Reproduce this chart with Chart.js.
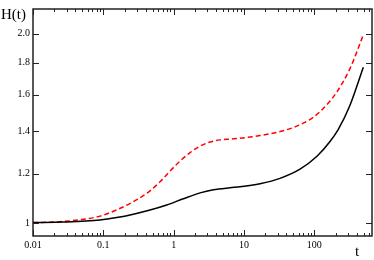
<!DOCTYPE html>
<html>
<head>
<meta charset="utf-8">
<script src="https://cdn.jsdelivr.net/npm/chart.js@4/dist/chart.umd.min.js"></script>
<style>
  body { margin: 0; background: #fff; }
  #wrap { width: 374px; height: 260px; }
</style>
</head>
<body>
<div id="wrap"><canvas id="c" width="374" height="260"></canvas></div>
<script>
// values
var tBlack = [0.01, 0.027, 0.0897, 0.155, 0.267, 0.461, 0.796, 1.37, 2.37, 3.66, 6.32, 8.78, 16.9, 32.5, 62.5, 108, 167, 219, 321, 497];
var hBlack = [1.003, 1.005, 1.0125, 1.0215, 1.0342, 1.0501, 1.0696, 1.0942, 1.118, 1.1307, 1.1392, 1.1432, 1.1563, 1.1791, 1.2194, 1.2769, 1.349, 1.41, 1.5405, 1.7703];

var tRed = [0.01, 0.0174, 0.027, 0.049, 0.0897, 0.155, 0.267, 0.461, 0.64, 0.887, 1.23, 1.71, 2.37, 3.29, 4.56, 6.32, 8.78, 16.9, 32.5, 56.1, 96.8, 150, 208, 321, 497];
var hRed = [1.0028, 1.0043, 1.0071, 1.0143, 1.0269, 1.0508, 1.0829, 1.1261, 1.1646, 1.211, 1.2555, 1.2953, 1.3264, 1.3465, 1.3572, 1.3611, 1.3651, 1.3791, 1.399, 1.427, 1.4745, 1.543, 1.616, 1.761, 1.993];

var xTicks = [];
[0.01, 0.1, 1, 10, 100].forEach(function (d) {
  for (var k = 1; k <= 9; k++) {
    var v = +(d * k).toPrecision(3);
    if (v <= 660) xTicks.push(v);
  }
});
var xLabels = [0.01, 0.1, 1, 10, 100];
var yTicks = [1, 1.2, 1.4, 1.6, 1.8, 2.0];

function pts(xs, ys) {
  return xs.map(function (x, i) { return { x: x, y: ys[i] }; });
}

var serif = "'Liberation Serif', 'DejaVu Serif', serif";

// inward tick marks, box frame, axis titles
const frame = {
  id: "frame",
  afterDraw(chart) {
    const ctx = chart.ctx;
    const a = chart.chartArea;
    const xs = chart.scales.x, ys = chart.scales.y;
    ctx.save();
    ctx.strokeStyle = "#222";
    ctx.lineWidth = 1;
    ctx.beginPath();
    xTicks.forEach(function (v) {
      const px = Math.round(xs.getPixelForValue(v)) + 0.5;
      const len = xLabels.indexOf(v) >= 0 ? 6 : 3;
      ctx.moveTo(px, a.bottom); ctx.lineTo(px, a.bottom - len);
      ctx.moveTo(px, a.top); ctx.lineTo(px, a.top + len);
    });
    yTicks.forEach(function (v) {
      const py = Math.round(ys.getPixelForValue(v)) + 0.5;
      ctx.moveTo(a.left, py); ctx.lineTo(a.left + 6, py);
      ctx.moveTo(a.right, py); ctx.lineTo(a.right - 6, py);
    });
    ctx.stroke();
    ctx.lineWidth = 1.5;
    ctx.strokeRect(a.left, a.top, a.right - a.left, a.bottom - a.top);
    ctx.fillStyle = "#000";
    ctx.font = "15px " + serif;
    ctx.textBaseline = "middle";
    ctx.textAlign = "left";
    ctx.fillText("H(t)", 1, 15);
    ctx.fillText("t", 355, 252);
    ctx.restore();
  }
};

new Chart(document.getElementById("c"), {
  type: "line",
  data: {
    datasets: [
      {
        data: pts(tBlack, hBlack),
        borderColor: "#000",
        borderWidth: 1.5,
        pointRadius: 0,
        cubicInterpolationMode: "monotone"
      },
      {
        data: pts(tRed, hRed),
        borderColor: "#ff0000",
        borderWidth: 1.5,
        borderDash: [5, 3],
        pointRadius: 0,
        cubicInterpolationMode: "monotone"
      }
    ]
  },
  options: {
    responsive: false,
    animation: false,
    layout: { padding: { top: 1, right: 2, left: 0, bottom: 0 } },
    plugins: { legend: { display: false }, tooltip: { enabled: false } },
    scales: {
      x: {
        type: "logarithmic",
        min: 0.01,
        max: 660,
        afterBuildTicks: function (s) { s.ticks = xTicks.map(function (v) { return { value: v }; }); },
        afterFit: function (s) { s.height = 24; },
        grid: { display: false, drawTicks: false },
        border: { display: false },
        ticks: {
          autoSkip: false,
          maxRotation: 0,
          padding: 3,
          color: "#000",
          font: { family: serif, size: 10 },
          callback: function (v) { return xLabels.indexOf(v) >= 0 ? String(v) : ""; }
        }
      },
      y: {
        type: "logarithmic",
        min: 0.955,
        max: 2.19,
        afterBuildTicks: function (s) { s.ticks = yTicks.map(function (v) { return { value: v }; }); },
        afterFit: function (s) { s.width = 33; },
        grid: { display: false, drawTicks: false },
        border: { display: false },
        ticks: {
          autoSkip: false,
          padding: 3,
          color: "#000",
          font: { family: serif, size: 10 },
          callback: function (v) { return v === 1 ? "1" : v.toFixed(1); }
        }
      }
    }
  },
  plugins: [frame]
});
</script>
</body>
</html>
